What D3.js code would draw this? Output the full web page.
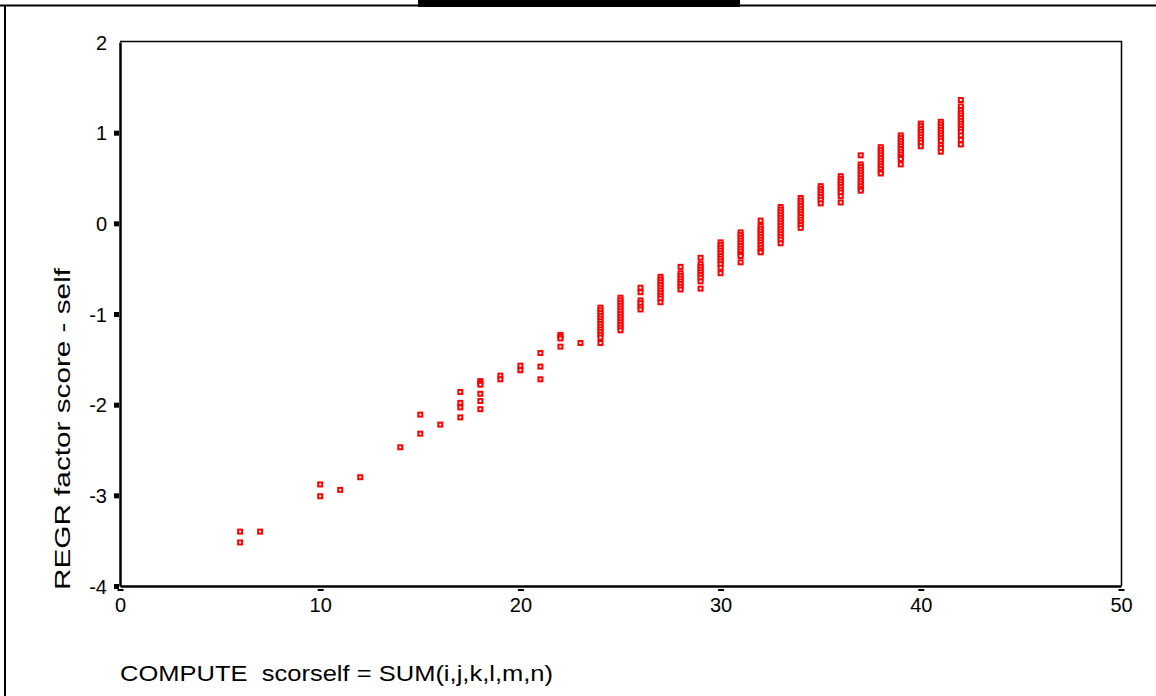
<!DOCTYPE html>
<html>
<head>
<meta charset="utf-8">
<script src="https://cdn.jsdelivr.net/npm/d3@7"></script>
<style>
  body { margin: 0; background: #fff; }
  svg { display: block; }
  text { font-family: "Liberation Sans", Arial, sans-serif; fill: #000; }
</style>
</head>
<body>
<svg id="svg1" width="1156" height="696"></svg>
<script>
// x categories (scorself sums) and the factor scores read at each one
var sums = [6, 7, 10, 11, 12, 14, 15, 16, 17, 18, 19, 20, 21, 22, 23, 24, 25, 26, 27, 28, 29, 30, 31, 32, 33, 34, 35, 36, 37, 38, 39, 40, 41, 42];
var scores = [
    [-3.40, -3.52],
    [-3.40],
    [-2.88, -3.01],
    [-2.94],
    [-2.80],
    [-2.47],
    [-2.11, -2.32],
    [-2.22],
    [-1.86, -1.98, -2.03, -2.14],
    [-1.74, -1.76, -1.78, -1.88, -1.96, -2.05],
    [-1.68, -1.72],
    [-1.57, -1.62],
    [-1.43, -1.58, -1.72],
    [-1.23, -1.25, -1.27, -1.36],
    [-1.32],
    [-0.93, -0.96, -0.99, -1.02, -1.05, -1.08, -1.11, -1.14, -1.17, -1.20, -1.23, -1.26, -1.32],
    [-0.82, -0.85, -0.88, -0.91, -0.94, -0.97, -1.00, -1.03, -1.06, -1.09, -1.12, -1.15, -1.18],
    [-0.71, -0.76, -0.85, -0.88, -0.92, -0.95],
    [-0.59, -0.62, -0.65, -0.68, -0.71, -0.74, -0.77, -0.80, -0.83, -0.87],
    [-0.48, -0.55, -0.58, -0.61, -0.64, -0.67, -0.70, -0.73],
    [-0.38, -0.45, -0.48, -0.51, -0.54, -0.57, -0.60, -0.64, -0.72],
    [-0.21, -0.24, -0.27, -0.30, -0.33, -0.36, -0.39, -0.42, -0.45, -0.49, -0.55],
    [-0.10, -0.13, -0.16, -0.19, -0.22, -0.25, -0.28, -0.31, -0.34, -0.36, -0.43],
    [0.03, -0.03, -0.06, -0.09, -0.12, -0.15, -0.18, -0.21, -0.24, -0.27, -0.30, -0.32],
    [0.18, 0.15, 0.12, 0.09, 0.06, 0.03, 0.00, -0.03, -0.06, -0.09, -0.12, -0.15, -0.18, -0.22],
    [0.28, 0.25, 0.22, 0.19, 0.16, 0.13, 0.10, 0.07, 0.04, 0.01, -0.02, -0.05],
    [0.41, 0.38, 0.35, 0.32, 0.29, 0.26, 0.22],
    [0.52, 0.49, 0.46, 0.43, 0.40, 0.37, 0.34, 0.30, 0.23],
    [0.75, 0.65, 0.62, 0.59, 0.56, 0.53, 0.50, 0.47, 0.44, 0.41, 0.38, 0.36],
    [0.84, 0.81, 0.78, 0.75, 0.72, 0.69, 0.66, 0.63, 0.60, 0.57, 0.55],
    [0.97, 0.94, 0.91, 0.88, 0.85, 0.82, 0.79, 0.76, 0.73, 0.71, 0.65],
    [1.10, 1.07, 1.04, 1.01, 0.98, 0.95, 0.92, 0.89, 0.85],
    [1.12, 1.09, 1.06, 1.03, 1.00, 0.97, 0.94, 0.91, 0.86, 0.83, 0.79],
    [1.36, 1.29, 1.25, 1.22, 1.19, 1.16, 1.13, 1.10, 1.07, 1.04, 1.01, 0.97, 0.92, 0.87]
];
var xTicks = [0, 10, 20, 30, 40, 50];
var yTicks = [-4, -3, -2, -1, 0, 1, 2];
var xTitle = "COMPUTE  scorself = SUM(i,j,k,l,m,n)";
var yTitle = "REGR factor score - self";

var svg = d3.select("#svg1");
var plotLeft = 120, plotRight = 1121, plotTop = 42, plotBottom = 586;

var x = d3.scaleLinear().domain([0, 50]).range([plotLeft, plotRight]);
var y = d3.scaleLinear().domain([-4, 2]).range([plotBottom, plotTop]);

// page frame bits
svg.append("line").attr("x1", 0).attr("x2", 1156).attr("y1", 5.5).attr("y2", 5.5)
    .attr("stroke", "#000").attr("stroke-width", 2);
svg.append("line").attr("x1", 5).attr("x2", 5).attr("y1", 5).attr("y2", 696)
    .attr("stroke", "#000").attr("stroke-width", 2);
svg.append("rect").attr("x", 418).attr("y", 0).attr("width", 322).attr("height", 7).attr("fill", "#000");

// points
var points = [];
sums.forEach(function(s, i){
    scores[i].forEach(function(v){ points.push({s: s, v: v}); });
});
svg.append("g").selectAll("rect").data(points).enter().append("rect")
    .attr("x", function(d){ return x(d.s) - 2; })
    .attr("y", function(d){ return y(d.v) - 2; })
    .attr("width", 4)
    .attr("height", 4)
    .attr("fill", "#fff")
    .attr("stroke", "#ff0000")
    .attr("stroke-width", 2);

// plot box
svg.append("line").attr("x1", plotLeft).attr("x2", plotRight + 1).attr("y1", plotTop - 0.5).attr("y2", plotTop - 0.5)
    .attr("stroke", "#000").attr("stroke-width", 1.5);
svg.append("line").attr("x1", plotRight + 0.5).attr("x2", plotRight + 0.5).attr("y1", plotTop - 1).attr("y2", plotBottom)
    .attr("stroke", "#000").attr("stroke-width", 1.5);

var fmt = function(d){ return String(d); };

// y axis
var yAxis = d3.axisLeft(y).tickValues(yTicks).tickSize(0).tickPadding(13).tickFormat(fmt);
var gy = svg.append("g").attr("transform", "translate(" + plotLeft + ",0)").call(yAxis);
gy.attr("font-size", 20).attr("font-family", null);
gy.select(".domain").attr("stroke-width", 2.5);
gy.selectAll(".tick text").attr("dy", "0.36em");
gy.selectAll(".tick").filter(function(d){ return d !== 2; }).append("rect")
    .attr("x", -6).attr("y", -2.5).attr("width", 5).attr("height", 5).attr("fill", "#000");

// x axis
var xAxis = d3.axisBottom(x).tickValues(xTicks).tickSize(0).tickPadding(12).tickFormat(fmt);
var gx = svg.append("g").attr("transform", "translate(0," + plotBottom + ")").call(xAxis);
gx.attr("font-size", 20).attr("font-family", null);
gx.select(".domain").attr("stroke-width", 2.5);
gx.selectAll(".tick").append("rect")
    .attr("x", -3).attr("y", 3).attr("width", 6).attr("height", 2).attr("fill", "#000");

// titles
svg.append("text")
    .attr("x", 120).attr("y", 681)
    .attr("font-size", 22)
    .style("white-space", "pre")
    .attr("textLength", 433).attr("lengthAdjust", "spacingAndGlyphs")
    .text(xTitle);

svg.append("text")
    .attr("transform", "translate(70,429) rotate(-90)")
    .attr("text-anchor", "middle")
    .attr("font-size", 22)
    .attr("textLength", 322).attr("lengthAdjust", "spacingAndGlyphs")
    .text(yTitle);
</script>
</body>
</html>
